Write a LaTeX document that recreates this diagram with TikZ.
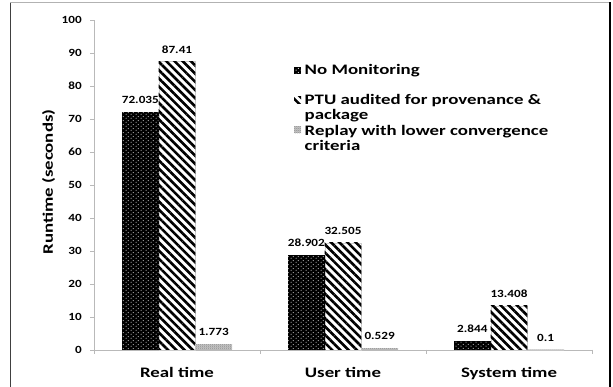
\documentclass[tikz,border=0pt]{standalone}
\usepackage{fontspec}
\newfontfamily\chartbig{Carlito}[FakeStretch=1.3]
\newfontfamily\chartsmall{Carlito}[FakeStretch=1.2]
\usetikzlibrary{patterns,patterns.meta}

\tikzdeclarepattern{
  name=whitedots, type=uncolored,
  bottom left={(0pt,0pt)}, top right={(5pt,4pt)}, tile size={(5pt,4pt)},
  code={\fill (1.25pt,1pt) circle (0.6pt); \fill (3.75pt,3pt) circle (0.6pt);}
}
\tikzdeclarepattern{
  name=checker, type=uncolored,
  bottom left={(0pt,0pt)}, top right={(2pt,2pt)}, tile size={(2pt,2pt)},
  code={\fill (0pt,0pt) rectangle (1pt,1pt); \fill (1pt,1pt) rectangle (2pt,2pt);}
}

\tikzset{
  barA/.style={fill=black, postaction={pattern=whitedots, pattern color=white}},
  barB/.style={fill=white, draw=gray!40, line width=0.4pt,
    postaction={pattern={Lines[angle=-45,distance=5.8pt,line width=2.6pt]}, pattern color=black}},
  barC/.style={fill=gray!45, postaction={pattern=checker, pattern color=gray!90}},
  axisline/.style={draw=gray!55, line width=0.8pt},
  ticklab/.style={font=\chartsmall\bfseries\fontsize{11}{13}\selectfont, inner sep=0pt, anchor=east},
  vallab/.style={font=\chartsmall\bfseries\fontsize{11}{13}\selectfont, inner sep=0pt},
  biglab/.style={font=\chartbig\bfseries\fontsize{14.5}{15}\selectfont, inner sep=0pt},
  legtext/.style={biglab, anchor=base west},
}

\begin{document}
\begin{tikzpicture}[x=1pt,y=1pt]
\useasboundingbox (0,0) rectangle (613,387);
\fill[white] (0,0) rectangle (613,387);

% frame
\draw[gray!60, line width=1pt] (10,384) -- (610,384);
\draw[black!75, line width=1.2pt] (10.5,0) -- (10.5,384);
\draw[black, line width=2pt] (609.5,0) -- (609.5,384.5);

\begin{scope}[yshift=37pt, y=3.3pt]
  % y axis
  \draw[axisline] (94,0) -- (94,100);
  \foreach \v in {0,10,...,100} {
    \draw[axisline] (90,\v) -- (94,\v);
    \node[ticklab] (t\v) at (82,\v) {\v};
  }
  % x axis
  \draw[axisline] (94,0) -- (592,0);
  \foreach \xx in {94,260,426,592} {
    \draw[axisline] (\xx,0) -- ++(0,-4pt);
  }
  % bars
  \foreach \s/\a/\b/\c/\la/\lb/\lc [count=\i] in
     {94/72.035/87.41/1.773/72.035/87.41/1.773,
      260/28.902/32.505/0.529/28.902/32.505/0.529,
      426/2.844/13.408/0.1/2.844/13.408/0.1} {
    \path[barA] (\s+28,0) rectangle (\s+64.7,\a);
    \path[barB] (\s+64.7,0) rectangle (\s+101.3,\b);
    \path[barC] (\s+101.3,0) rectangle (\s+138,\c);
    \node[vallab] (va\i) at ([yshift=12pt]\s+46.35,\a) {\la};
    \node[vallab] (vb\i) at ([yshift=12pt]\s+83,\b) {\lb};
    \node[vallab] (vc\i) at ([yshift=12pt]\s+119.65,\c) {\lc};
  }
\end{scope}

% category labels
\node[biglab, anchor=base] (cat1) at (177,9) {Real time};
\node[biglab, anchor=base] (cat2) at (343,9) {User time};
\node[biglab, anchor=base] (cat3) at (509,9) {System time};

% axis title
\node[biglab, rotate=90] (ytitle) at (48.5,205) {Runtime (seconds)};

% legend
\path[barA] (294,313) rectangle (301,320);
\path[fill=white, postaction={pattern={Lines[angle=-45,distance=5.8pt,line width=2.6pt]}, pattern color=black}] (294,283.5) rectangle (301,290.5);
\path[barC] (294,253.5) rectangle (301,260.5);
\node[legtext] (l1) at (304.5,312.7) {No Monitoring};
\node[legtext] (l2a) at (304.5,282.5) {PTU audited for provenance \&};
\node[legtext] (l2b) at (304.5,267.5) {package};
\node[legtext] (l3a) at (304.5,251) {Replay with lower convergence};
\node[legtext] (l3b) at (304.5,236) {criteria};
\end{tikzpicture}
\end{document}
